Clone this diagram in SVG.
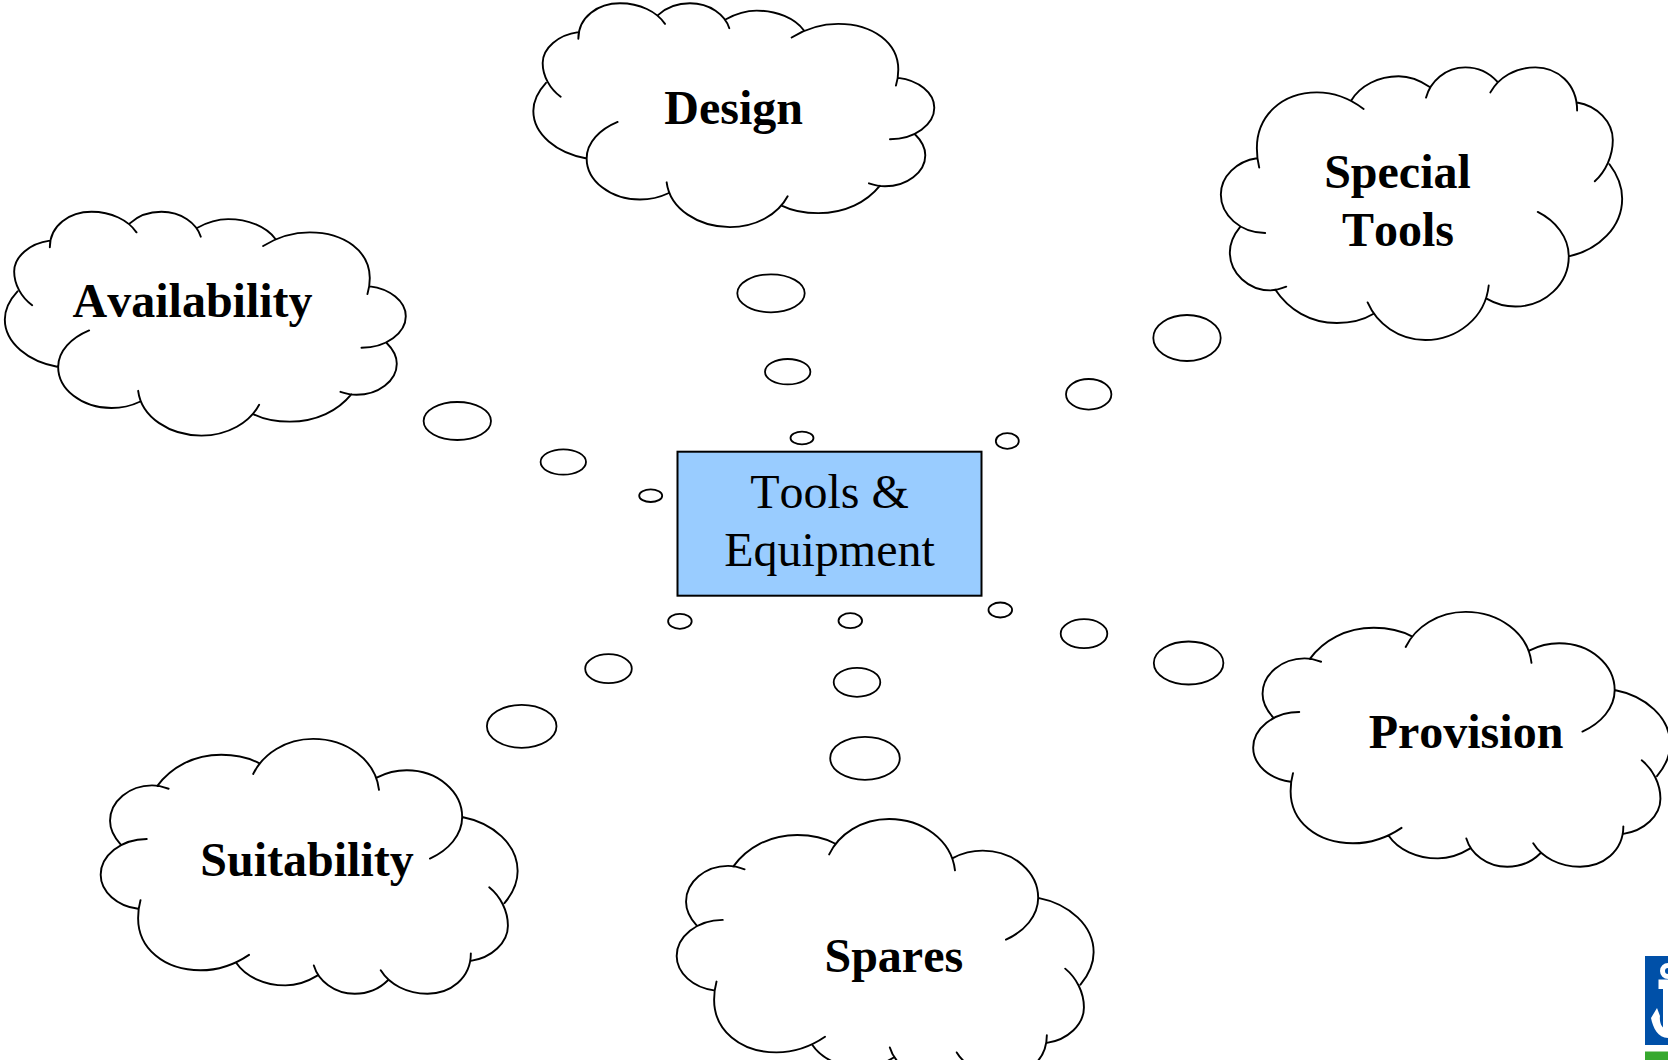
<svg xmlns="http://www.w3.org/2000/svg" xmlns:xlink="http://www.w3.org/1999/xlink" width="1668" height="1060" viewBox="0 0 1668 1060">
<style>
.c{fill:none;stroke:#000;stroke-width:1.9;stroke-linecap:round;vector-effect:non-scaling-stroke}
.b{fill:#fff;stroke:#000;stroke-width:1.8}
.t{font-family:"Liberation Serif","Times New Roman",serif;font-size:48px;font-weight:bold;fill:#000;text-anchor:middle;font-kerning:none}
.r{font-weight:normal}
</style>
<defs>
<path id="cloud" class="c" d="M122 292C90 268 68 230 68 190C68 145 115 105 175 97M175 117C175 50 235 10 300 10C360 10 410 35 435 72M415 45C440 22 475 10 510 10C570 10 615 45 628 85M618 58C650 40 680 32 710 32C770 32 825 55 852 92M815 113C860 85 910 72 955 72C1060 72 1135 130 1135 210C1135 228 1132 245 1128 258M1135 235C1195 242 1243 280 1243 325C1243 375 1185 420 1110 420M1185 405C1205 425 1216 445 1216 468C1216 520 1160 562 1095 562C1078 562 1062 558 1047 553M1080 560C1040 610 975 643 895 643C855 643 815 635 785 620M803 592C775 645 710 685 630 685C535 685 450 630 440 550M445 583C420 595 390 602 360 602C270 602 200 545 200 478C200 430 240 390 293 368M200 478C110 462 40 405 40 335C40 305 55 275 78 250"/>
</defs>
<rect width="1668" height="1060" fill="#fff"/>
<g id="connectors">
<ellipse class="b" cx="771" cy="293.3" rx="33.7" ry="19"/>
<ellipse class="b" cx="787.7" cy="371.7" rx="22.7" ry="12.7"/>
<ellipse class="b" cx="802" cy="438" rx="11.5" ry="6.3"/>
<ellipse class="b" cx="457.3" cy="421" rx="33.7" ry="19"/>
<ellipse class="b" cx="563.3" cy="462" rx="22.7" ry="12.7"/>
<ellipse class="b" cx="650.7" cy="495.7" rx="11.5" ry="6.3"/>
<ellipse class="b" cx="1187" cy="338" rx="33.7" ry="23"/>
<ellipse class="b" cx="1088.7" cy="394.3" rx="22.7" ry="15.3"/>
<ellipse class="b" cx="1007.3" cy="441" rx="11.5" ry="7.8"/>
<ellipse class="b" cx="679.9" cy="621.3" rx="11.8" ry="7.5"/>
<ellipse class="b" cx="850.3" cy="620.7" rx="11.8" ry="7.5"/>
<ellipse class="b" cx="1000.3" cy="610" rx="11.8" ry="7.5"/>
<ellipse class="b" cx="1084" cy="633.7" rx="23.3" ry="14.5"/>
<ellipse class="b" cx="1188.6" cy="663" rx="34.8" ry="21.5"/>
<ellipse class="b" cx="608.5" cy="668.7" rx="23.3" ry="14.5"/>
<ellipse class="b" cx="857" cy="682.3" rx="23.3" ry="14.5"/>
<ellipse class="b" cx="521.7" cy="726.3" rx="34.8" ry="21.5"/>
<ellipse class="b" cx="865" cy="758.3" rx="34.8" ry="21.5"/>
</g>
<g id="node-center">
<rect x="677.5" y="451.7" width="304" height="144" fill="#99ccff" stroke="#000" stroke-width="2"/>
<text class="t r" x="829.5" y="508">Tools &amp;</text>
<text class="t r" x="829.5" y="566">Equipment</text>
</g>
<g id="node-design">
<use href="#cloud" transform="translate(520 0) scale(.3333 .3315)"/>
<text class="t" x="733.7" y="124">Design</text>
</g>
<g id="node-availability">
<use href="#cloud" transform="translate(-8.5 208.5) scale(.3333 .3315)"/>
<text class="t" x="192.6" y="317">Availability</text>
</g>
<g id="node-special-tools">
<use href="#cloud" transform="matrix(-.3336 0 0 .404 1635.5 63.3)"/>
<text class="t" x="1397.5" y="188">Special</text>
<text class="t" x="1398" y="246">Tools</text>
</g>
<g id="node-provision">
<use href="#cloud" transform="matrix(-.3466 0 0 -.3775 1684 870.5)"/>
<text class="t" x="1466" y="748">Provision</text>
</g>
<g id="node-suitability">
<use href="#cloud" transform="matrix(-.3466 0 0 -.3775 531.5 997.5)"/>
<text class="t" x="307" y="875.5">Suitability</text>
</g>
<g id="node-spares">
<use href="#cloud" transform="matrix(-.3466 0 0 -.3807 1107.5 1079.8)"/>
<text class="t" x="893.8" y="972">Spares</text>
</g>
<g id="logo">
<rect x="1645" y="956" width="23" height="89" fill="#0050a8"/>
<rect x="1645" y="1051.5" width="23" height="8.5" fill="#36a82e"/>
<circle cx="1668" cy="971" r="5.5" fill="none" stroke="#fff" stroke-width="5"/>
<rect x="1658.5" y="979.5" width="9.5" height="9.5" fill="#fff"/>
<rect x="1663" y="985" width="5" height="48" fill="#fff"/>
<path d="M1651 1018L1657 1008L1660 1016C1659 1024 1663 1029 1668 1031V1038C1658 1038 1653 1028 1651 1018Z" fill="#fff"/>
</g>
</svg>
